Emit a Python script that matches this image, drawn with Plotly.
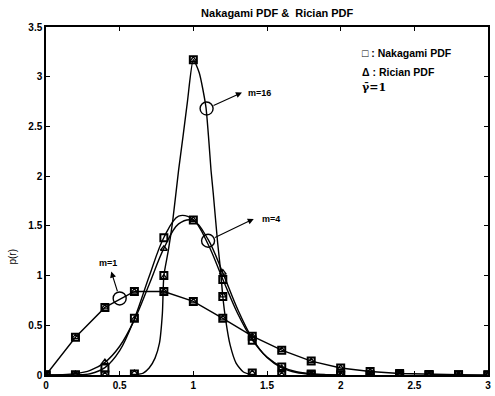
import plotly.graph_objects as go

# ---------------- data ----------------
x_pts = [0, 0.2, 0.4, 0.6, 0.8, 1.0, 1.2, 1.4, 1.6, 1.8, 2.0, 2.2, 2.4, 2.6, 2.8, 3.0]

nak_m1 = [0, 0.38, 0.68, 0.84, 0.84, 0.74, 0.57, 0.39, 0.25, 0.14, 0.07, 0.035, 0.015, 0.006, 0.002, 0.0]
ric_m1 = [0, 0.38, 0.68, 0.84, 0.84, 0.74, 0.57, 0.39, 0.25, 0.14, 0.07, 0.035, 0.015, 0.006, 0.002, 0.0]
nak_m4 = [0, 0.0, 0.07, 0.57, 1.38, 1.56, 0.96, 0.35, 0.08, 0.01, 0.0, 0, 0, 0, 0, 0]
ric_m4 = [0, 0.01, 0.13, 0.56, 1.27, 1.56, 1.03, 0.37, 0.07, 0.01, 0.0, 0, 0, 0, 0, 0]
nak_m16 = [0, 0, 0, 0.01, 1.00, 3.17, 0.79, 0.02, 0, 0, 0, 0, 0, 0, 0, 0]
ric_m16 = [0, 0, 0, 0.02, 0.98, 3.17, 0.80, 0.02, 0, 0, 0, 0, 0, 0, 0, 0]

# smooth curves (m=4 Nakagami / Rician, m=16)
x_c4 = [0, 0.1, 0.2, 0.3, 0.4, 0.5, 0.6, 0.7, 0.8, 0.9, 1.0, 1.1, 1.2, 1.3, 1.4, 1.5, 1.6, 1.7, 1.8, 1.9, 2.0]
nak_c4 = [0, 0, 0.001, 0.013, 0.074, 0.245, 0.566, 0.99, 1.383, 1.598, 1.563, 1.315, 0.963, 0.621, 0.354,
          0.18, 0.082, 0.033, 0.012, 0.004, 0.001]
ric_c4 = [0, 0.003, 0.014, 0.047, 0.127, 0.289, 0.555, 0.911, 1.273, 1.52, 1.555, 1.363, 1.027, 0.663, 0.368,
          0.175, 0.072, 0.025, 0.008, 0.002, 0.0005]

x_c16 = [0.60, 0.66, 0.70, 0.74, 0.77, 0.79, 0.80, 0.83, 0.86, 0.90, 0.93, 0.96, 1.00, 1.04, 1.085, 1.105,
         1.12, 1.135, 1.165, 1.185, 1.20, 1.22, 1.25, 1.29, 1.34, 1.40]
y_c16 = [0.00, 0.02, 0.07, 0.17, 0.32, 0.62, 1.00, 1.25, 1.55, 2.06, 2.40, 2.75, 3.17, 3.04, 2.70, 2.36,
         2.06, 1.83, 1.33, 1.05, 0.79, 0.55, 0.30, 0.12, 0.03, 0.00]

# annotation circles, arrow heads and labels
m_labels = ["m=1", "m=4", "m=16"]
circle_x = [0.50, 1.10, 1.09]
circle_y = [0.77, 1.35, 2.68]
arrow_x = [0.443, 1.41, 1.33]
arrow_y = [1.04, 1.57, 2.84]
label_x = [0.42, 1.45, 1.36]
label_y = [1.13, 1.57, 2.84]
label_anchor = ["center", "left", "left"]

title_text = "Nakagami PDF &  Rician PDF"
legend_lines = ["□ : Nakagami PDF", "Δ : Rician PDF", "γ\u0304=1"]
xtick_vals = [0, 0.5, 1, 1.5, 2, 2.5, 3]
xtick_text = ["0", "0.5", "1", "1.5", "2", "2.5", "3"]
ytick_vals = [0, 0.5, 1, 1.5, 2, 2.5, 3, 3.5]
ytick_text = ["0", "0.5", "1", "1.5", "2", "2.5", "3", "3.5"]

# ---------------- figure ----------------
FONT = "Liberation Sans, Arial, sans-serif"
LW = 1.4
fig = go.Figure()

# curves
fig.add_trace(go.Scatter(x=x_pts, y=nak_m1, mode="lines", line=dict(color="black", width=LW)))
fig.add_trace(go.Scatter(x=x_c4, y=nak_c4, mode="lines", line=dict(color="black", width=LW, shape="spline")))
fig.add_trace(go.Scatter(x=x_c4, y=ric_c4, mode="lines", line=dict(color="black", width=LW, shape="spline")))
fig.add_trace(go.Scatter(x=x_c16, y=y_c16, mode="lines",
                         line=dict(color="black", width=LW, shape="spline", smoothing=0.6)))

# markers
for ys in (nak_m1, nak_m4, nak_m16):
    fig.add_trace(go.Scatter(x=x_pts, y=ys, mode="markers",
                             marker=dict(symbol="square-open", size=7, color="black",
                                         line=dict(width=2, color="black"))))
for ys in (ric_m1, ric_m4, ric_m16):
    fig.add_trace(go.Scatter(x=x_pts, y=ys, mode="markers",
                             marker=dict(symbol="triangle-up-open", size=6, color="black",
                                         line=dict(width=1.3, color="black"))))

# circles
fig.add_trace(go.Scatter(x=circle_x, y=circle_y, mode="markers",
                         marker=dict(symbol="circle-open", size=13, color="black",
                                     line=dict(width=1.4, color="black"))))

annotations = []
for i in range(len(m_labels)):
    annotations.append(dict(x=arrow_x[i], y=arrow_y[i], ax=circle_x[i], ay=circle_y[i],
                            xref="x", yref="y", axref="x", ayref="y", text="",
                            showarrow=True, arrowhead=2, arrowsize=1.1, arrowwidth=1.1,
                            arrowcolor="black", startstandoff=6))
    annotations.append(dict(x=label_x[i], y=label_y[i], xref="x", yref="y", text="<b>%s</b>" % m_labels[i],
                            showarrow=False, xanchor=label_anchor[i], yanchor="middle",
                            font=dict(family=FONT, size=9, color="black")))

leg_y = [0.925, 0.870, 0.825]
for i, t in enumerate(legend_lines):
    annotations.append(dict(x=0.71, y=leg_y[i], xref="paper", yref="paper", text="<b>%s</b>" % t,
                            showarrow=False, xanchor="left", yanchor="middle",
                            font=dict(family=FONT if i < 2 else "DejaVu Serif, serif",
                                      size=10.5 if i < 2 else 11, color="black")))

annotations.append(dict(x=-0.075, y=0.34, xref="paper", yref="paper", text="p(r)", textangle=-90,
                        showarrow=False, xanchor="center", yanchor="middle",
                        font=dict(family=FONT, size=10, color="black")))

axis_common = dict(showline=True, linecolor="black", linewidth=1.5, mirror="ticks", ticks="inside",
                   ticklen=4, tickwidth=1, tickcolor="black", showgrid=False, zeroline=False,
                   tickfont=dict(family=FONT, size=10, color="black", weight="bold"))

fig.update_layout(
    width=495, height=396,
    margin=dict(l=46, r=4, t=27, b=21),
    paper_bgcolor="white", plot_bgcolor="white",
    showlegend=False,
    title=dict(text="<b>%s</b>" % title_text, xref="container", yref="container",
               x=0.56, y=0.967, xanchor="center", yanchor="middle",
               font=dict(family=FONT, size=11, color="black")),
    xaxis=dict(range=[0, 3], tickvals=xtick_vals, ticktext=xtick_text, **axis_common),
    yaxis=dict(range=[0, 3.5], tickvals=ytick_vals, ticktext=ytick_text, **axis_common),
    annotations=annotations,
)

fig.write_html("out.html")
